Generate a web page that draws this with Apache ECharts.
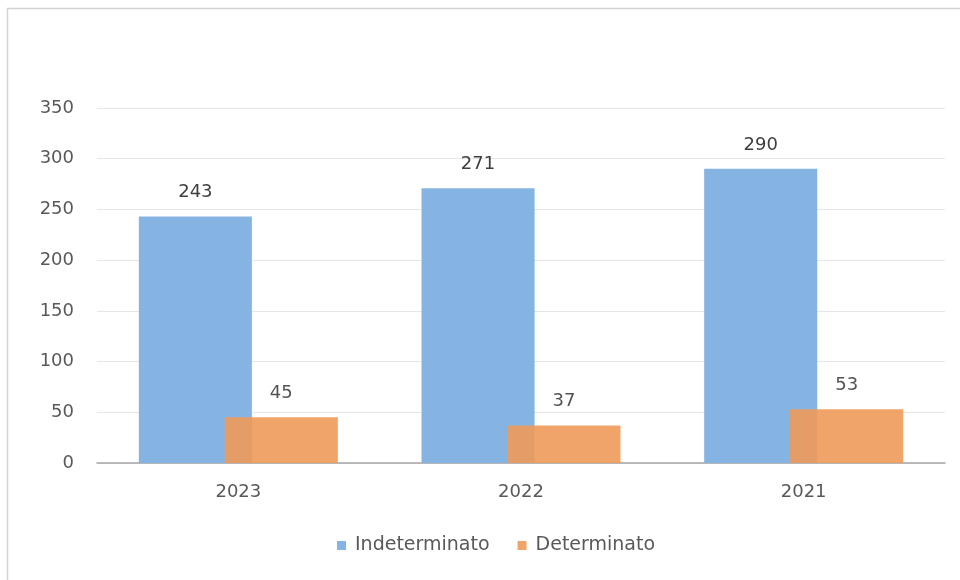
<!DOCTYPE html>
<html>
<head>
<meta charset="utf-8">
<script src="https://cdn.jsdelivr.net/npm/echarts@6/dist/echarts.min.js"></script>
<style>
  html, body { margin: 0; padding: 0; background: #ffffff; }
  #chart { width: 960px; height: 580px; }
</style>
</head>
<body>
<div id="chart"></div>
<script>
// Contract counts per year, by contract type
const years = ['2023', '2022', '2021'];
const indeterminato = [243, 271, 290];
const determinato = [45, 37, 53];
const yTicks = { min: 0, max: 350, step: 50 };

const chart = echarts.init(document.getElementById('chart'));
const font = '"DejaVu Sans", Verdana, sans-serif';

const labelStyle = {
  show: true,
  position: 'top',
  distance: 15,
  fontSize: 18,
  color: '#404040',
  fontFamily: font
};

chart.setOption({
  animation: false,
  backgroundColor: '#ffffff',
  graphic: [{
    type: 'rect',
    shape: { x: 7.5, y: 8.5, width: 960, height: 600 },
    style: { fill: 'none', stroke: '#d4d4d4', lineWidth: 1.5 },
    z: 100
  }],
  grid: { left: 97, right: 15, top: 108, bottom: 117 },
  legend: {
    bottom: 20,
    left: 332,
    itemWidth: 9,
    itemHeight: 9,
    itemGap: 28,
    icon: 'rect',
    textStyle: { fontSize: 19, color: '#595959', fontFamily: font, padding: [0, 0, 0, 4] },
    data: ['Indeterminato', 'Determinato']
  },
  xAxis: {
    type: 'category',
    data: years,
    axisLine: { lineStyle: { color: '#a6a6a6', width: 1.5 } },
    axisTick: { show: false },
    axisLabel: { fontSize: 18, color: '#595959', margin: 20, fontFamily: font }
  },
  yAxis: {
    type: 'value',
    min: yTicks.min,
    max: yTicks.max,
    interval: yTicks.step,
    axisLine: { show: false },
    axisTick: { show: false },
    axisLabel: { fontSize: 18, color: '#595959', margin: 23, fontFamily: font },
    splitLine: { lineStyle: { color: '#e6e6e6', width: 1 } }
  },
  series: [
    {
      name: 'Indeterminato',
      type: 'bar',
      data: indeterminato,
      barWidth: '40%',
      barGap: '-24%',
      itemStyle: { color: '#86b4e2' },
      label: labelStyle
    },
    {
      name: 'Determinato',
      type: 'bar',
      data: determinato,
      barWidth: '40%',
      itemStyle: { color: '#ee9a5a', opacity: 0.9 },
      label: labelStyle
    }
  ]
});
</script>
</body>
</html>
